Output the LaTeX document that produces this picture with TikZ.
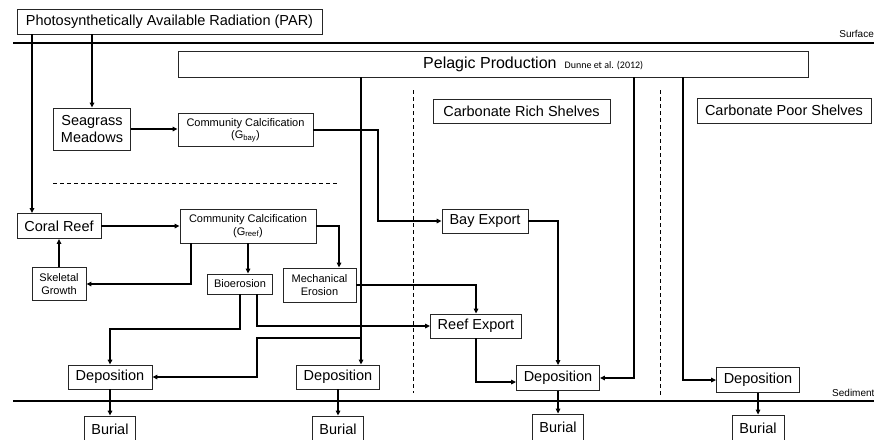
\documentclass[tikz,border=0pt]{standalone}
\usepackage{fontspec}
\setmainfont{Liberation Sans}
\newfontfamily\carlito{Carlito}
\usetikzlibrary{arrows.meta}
\begin{document}
\begin{tikzpicture}[x=1pt,y=-1pt,
  box/.style={draw=black!85,line width=0.8pt,rectangle,inner sep=0pt,align=center,anchor=center},
  big/.style={font=\fontsize{14.5}{16.5}\selectfont},
  small/.style={font=\fontsize{11}{12.5}\selectfont},
  arr/.style={line width=2pt,-{Triangle[length=5pt,width=4.5pt]}},
  dsh/.style={line width=0.8pt,dash pattern=on 4pt off 3pt},
  lvl/.style={line width=2.2pt}]
\useasboundingbox (0,0) rectangle (874,439);
\clip (0,0) rectangle (874,439);
% levels
\coordinate (sl) at (13,43); \coordinate (sr) at (874,43);
\coordinate (dl) at (13,401); \coordinate (dr) at (874,401);
\draw[lvl] (sl) -- (sr);
\draw[lvl] (dl) -- (dr);
\node[anchor=east,inner sep=0pt,font=\fontsize{10}{12}\selectfont] (surf) at (874,34) {Surface};
\node[anchor=west,inner sep=0pt,font=\fontsize{10}{12}\selectfont] (sedi) at (832,393) {Sediment};
% dashed separators
\coordinate (h1) at (53,183); \coordinate (h2) at (337,183);
\coordinate (v1a) at (413,90); \coordinate (v1b) at (413,393);
\coordinate (v2a) at (660,90); \coordinate (v2b) at (660,395);
\draw[dsh] (h1) -- (h2);
\draw[dsh] (v1a) -- (v1b);
\draw[dsh] (v2a) -- (v2b);
% nodes
\node[box,big,minimum width=305pt,minimum height=25pt] (par) at (169.5,21.5) {Photosynthetically Available Radiation (PAR)};
\node[box,minimum width=630pt,minimum height=26pt] (pel) at (493,64) {};
\node[anchor=west,inner sep=0pt] (pelt) at (423,64) {\fontsize{16}{18}\selectfont Pelagic Production\hspace{8pt}{\carlito\fontsize{10}{12}\selectfont Dunne et al. (2012)}};
\node[box,big,minimum width=77pt,minimum height=42pt] (sea) at (92,129) {Seagrass\\Meadows};
\node[box,small,minimum width=135pt,minimum height=33pt] (ccbay) at (245.5,130) {Community Calcification\\(G\textsubscript{bay})};
\node[box,big,minimum width=177pt,minimum height=24pt] (crs) at (521.5,111) {Carbonate Rich Shelves};
\node[box,big,minimum width=174pt,minimum height=25pt] (cps) at (784,110.5) {Carbonate Poor Shelves};
\node[box,big,minimum width=84pt,minimum height=25pt] (coral) at (59,226) {Coral Reef};
\node[box,small,minimum width=136pt,minimum height=34pt] (ccreef) at (248,226) {Community Calcification\\(G\textsubscript{reef})};
\node[box,big,minimum width=86pt,minimum height=24pt] (bay) at (485,221) {Bay Export};
\node[box,small,minimum width=54pt,minimum height=33pt] (skel) at (59,284) {Skeletal\\Growth};
\node[box,small,minimum width=65pt,minimum height=20pt] (bio) at (240,284) {Bioerosion};
\node[box,small,minimum width=73pt,minimum height=34pt] (mech) at (319.5,285) {Mechanical\\Erosion};
\node[box,big,minimum width=91pt,minimum height=24pt] (reef) at (476,326) {Reef Export};
\node[box,big,minimum width=84pt,minimum height=24pt] (dep1) at (110,377) {Deposition};
\node[box,big,minimum width=83pt,minimum height=24pt] (dep2) at (338,377) {Deposition};
\node[box,big,minimum width=83pt,minimum height=25pt] (dep3) at (558,378) {Deposition};
\node[box,big,minimum width=83pt,minimum height=25pt] (dep4) at (758,380) {Deposition};
\node[box,big,minimum width=51pt,minimum height=26pt] (bur1) at (110,429) {Burial};
\node[box,big,minimum width=51pt,minimum height=26pt] (bur2) at (338,429) {Burial};
\node[box,big,minimum width=51pt,minimum height=26pt] (bur3) at (558,427) {Burial};
\node[box,big,minimum width=52pt,minimum height=26pt] (bur4) at (758,428) {Burial};
% helper coordinates
\coordinate (xA) at (32,0);
\coordinate (xB) at (378,0);
\coordinate (xM) at (339,0);
\coordinate (xS) at (191,0);
\coordinate (xR) at (257,0);
\coordinate (xP) at (361,0);
\coordinate (x634) at (634,0);
\coordinate (x683) at (683,0);
\coordinate (yD) at (0,329);
\coordinate (yF) at (0,382);
\coordinate (br) at (361,338);
\coordinate (kn) at (257,338);
% connectors
\draw[arr] (par.south -| xA) -- (coral.north -| xA);
\draw[arr] (par.south -| sea.north) -- (sea.north);
\draw[arr] (sea.east) -- (ccbay.west |- sea.east);
\draw[arr] (ccbay.east) -- (ccbay.east -| xB) |- (bay.west);
\draw[arr] (coral.east) -- (ccreef.west);
\draw[arr] (ccreef.east) -| (mech.north -| xM);
\draw[arr] (ccreef.south) -- (ccreef.south |- bio.north);
\draw[arr] (ccreef.south -| xS) |- (skel.east);
\draw[arr] (skel.north) -- (coral.south);
\draw[arr] (mech.east) -| (reef.north);
\draw[arr] (bio.south -| xR) |- (reef.west);
\draw[arr] (bio.south) -- (bio.south |- yD) -| (dep1.north);
\draw[arr] (pel.south -| xP) -- (dep2.north -| xP);
\draw[arr] (br) -- (kn) |- (dep1.east);
\draw[arr] (bay.east) -| (dep3.north);
\draw[arr] (reef.south) |- (dep3.west |- yF);
\draw[arr] (pel.south -| x634) |- (dep3.east);
\draw[arr] (pel.south -| x683) |- (dep4.west);
\draw[arr] (dep1.south) -- (bur1.north);
\draw[arr] (dep2.south) -- (bur2.north);
\draw[arr] (dep3.south) -- (bur3.north);
\draw[arr] (dep4.south) -- (bur4.north);
\end{tikzpicture}
\end{document}
